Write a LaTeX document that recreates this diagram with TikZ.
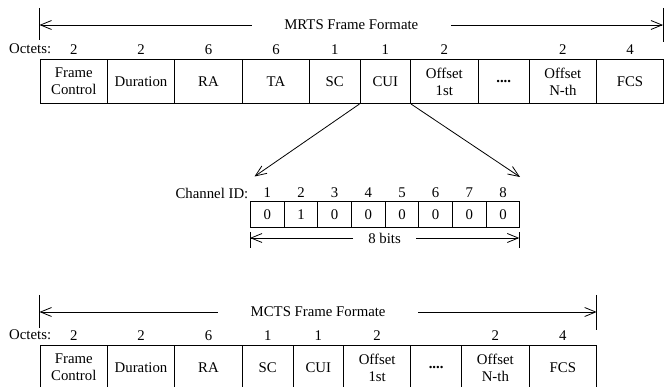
\documentclass[tikz,border=0pt]{standalone}
\usepackage{fontspec}
\setmainfont{Liberation Serif}
\usetikzlibrary{arrows.meta,calc}
\begin{document}
\begin{tikzpicture}[x=1pt,y=-1pt,
  every node/.style={font=\fontsize{14.8}{17}\selectfont, inner sep=0pt},
  cell/.style={draw, line width=1pt, anchor=north west, minimum height=44pt, align=center},
  bitcell/.style={draw, line width=1pt, anchor=north west, minimum width=33.66pt, minimum height=25.7pt},
  title/.style={inner xsep=32.5pt},
  spanline/.style={line width=0.8pt, -{Straight Barb[length=11pt,width=9pt]}},
  tickline/.style={line width=0.8pt},
  zoomline/.style={line width=0.8pt, -{Straight Barb[length=11pt,width=9pt]}}]
\useasboundingbox (0,0) rectangle (664,387);

% ---------------- MRTS frame ----------------
\coordinate (mrtsL) at (39.5,25);
\coordinate (mrtsR) at (663,25);
\node[title] (mrts) at (351.3,25) {MRTS Frame Formate};
\draw[spanline] (mrts.west) -- (mrtsL);
\draw[spanline] (mrts.east) -- (mrtsR);
\draw[tickline] ($(mrtsL)+(0,-17)$) -- ($(mrtsL)+(0,15)$);
\draw[tickline] ($(mrtsR)+(0,-17)$) -- ($(mrtsR)+(0,17)$);

\node[anchor=west] (oct1) at (9,49) {Octets:};
\node[cell, minimum width=67.5pt] (afc)  at (39.5,59) {Frame\\Control};
\node[cell, minimum width=67pt]   (adur) at (107,59)  {Duration};
\node[cell, minimum width=68pt]   (ara)  at (174,59)  {RA};
\node[cell, minimum width=67pt]   (ata)  at (242,59)  {TA};
\node[cell, minimum width=50.5pt] (asc)  at (309,59)  {SC};
\node[cell, minimum width=50.5pt] (acui) at (359.5,59) {CUI};
\node[cell, minimum width=67.7pt] (aof1) at (410,59)  {Offset\\1st};
\node[cell, minimum width=51pt]   (adot) at (477.7,59) {\textbf{....}};
\node[cell, minimum width=67.3pt] (aofn) at (528.7,59) {Offset\\N-th};
\node[cell, minimum width=67pt]   (afcs) at (596,59)  {FCS};
\foreach \c/\n in {afc/2, adur/2, ara/6, ata/6, asc/1, acui/1, aof1/2, aofn/2, afcs/4}
  \node (n-\c) at ($(\c.north)+(0,-9.5)$) {\n};

% ---------------- channel ID byte ----------------
\coordinate (zl) at (254.5,176.5);
\coordinate (zr) at (520,177);
\draw[zoomline] (acui.south west) -- (zl);
\draw[zoomline] (acui.south east) -- (zr);

\node[anchor=east] (chid) at (248.5,193.5) {Channel ID:};
\foreach \i/\v in {1/0,2/1,3/0,4/0,5/0,6/0,7/0,8/0}{
  \node[bitcell] (b\i) at ({250+(\i-1)*33.66},201) {\v};
  \node (bn\i) at ($(b\i.north)+(0,-8)$) {\i};
}
\coordinate (bitsL) at (250,238);
\coordinate (bitsR) at (519.3,238);
\node[inner xsep=15pt] (bits) at (384.6,238) {8 bits};
\draw[spanline] (bits.west) -- (bitsL);
\draw[spanline] (bits.east) -- (bitsR);
\draw[tickline] ($(bitsL)+(0,-6)$) -- ($(bitsL)+(0,10)$);
\draw[tickline] ($(bitsR)+(0,-6)$) -- ($(bitsR)+(0,10)$);

% ---------------- MCTS frame ----------------
\coordinate (mctsL) at (39.5,312);
\coordinate (mctsR) at (596.7,312);
\node[title] (mcts) at (318.1,312) {MCTS Frame Formate};
\draw[spanline] (mcts.west) -- (mctsL);
\draw[spanline] (mcts.east) -- (mctsR);
\draw[tickline] ($(mctsL)+(0,-17)$) -- ($(mctsL)+(0,16)$);
\draw[tickline] ($(mctsR)+(0,-17)$) -- ($(mctsR)+(0,18)$);

\node[anchor=west] (oct2) at (9,335) {Octets:};
\node[cell, minimum width=67.5pt] (cfc)  at (39.5,345) {Frame\\Control};
\node[cell, minimum width=67pt]   (cdur) at (107,345)  {Duration};
\node[cell, minimum width=68pt]   (cra)  at (174,345)  {RA};
\node[cell, minimum width=50.5pt] (csc)  at (242,345)  {SC};
\node[cell, minimum width=50.5pt] (ccui) at (292.5,345) {CUI};
\node[cell, minimum width=67.3pt] (cof1) at (343,345)  {Offset\\1st};
\node[cell, minimum width=50.7pt] (cdot) at (410.3,345) {\textbf{....}};
\node[cell, minimum width=67.7pt] (cofn) at (461,345)  {Offset\\N-th};
\node[cell, minimum width=67.3pt] (cfcs) at (528.7,345) {FCS};
\foreach \c/\n in {cfc/2, cdur/2, cra/6, csc/1, ccui/1, cof1/2, cofn/2, cfcs/4}
  \node (n-\c) at ($(\c.north)+(0,-9.5)$) {\n};
\end{tikzpicture}
\end{document}
